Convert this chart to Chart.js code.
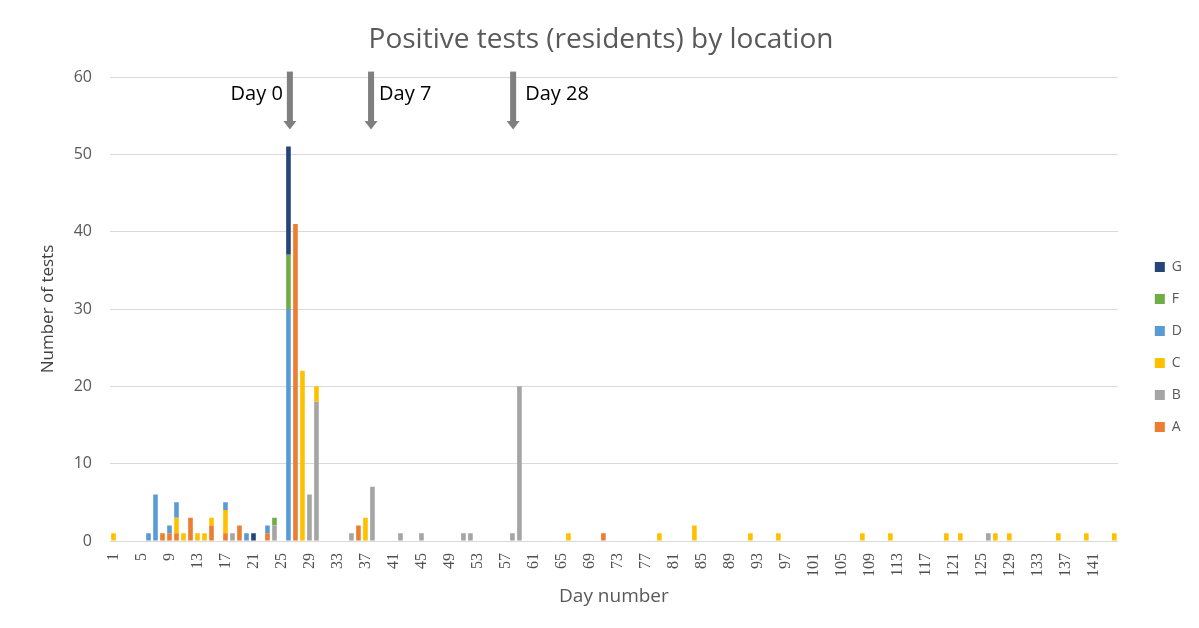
<!DOCTYPE html>
<html>
<head>
<meta charset="utf-8">
<script src="https://cdn.jsdelivr.net/npm/chart.js@4.4.0/dist/chart.umd.min.js"></script>
<style>
  html, body { margin: 0; padding: 0; background: #ffffff; }
  #wrap { width: 1199px; height: 628px; position: relative; }
</style>
</head>
<body>
<div id="wrap"><canvas id="c" width="1199" height="628"></canvas></div>
<script>
// ---------- data ----------
const dayCount = 144;
const dayLabels = Array.from({ length: dayCount }, (_, i) => String(i + 1));
const labelEvery = 4;

const seriesNames = ['A', 'B', 'C', 'D', 'F', 'G'];
const seriesColors = ['#ED7D31', '#A5A5A5', '#FFC000', '#5B9BD5', '#70AD47', '#264478'];

// [day, number of positive tests]
const countsA = [[8,1],[9,1],[10,1],[12,3],[15,2],[17,1],[19,2],[23,1],[27,41],[36,2],[71,1]];
const countsB = [[18,1],[24,2],[29,6],[30,18],[35,1],[38,7],[42,1],[45,1],[51,1],[52,1],[58,1],[59,20],[126,1]];
const countsC = [[1,1],[10,2],[11,1],[13,1],[14,1],[15,1],[17,3],[28,22],[30,2],[37,3],[66,1],[79,1],[84,2],
                 [92,1],[96,1],[108,1],[112,1],[120,1],[122,1],[127,1],[129,1],[136,1],[140,1],[144,1]];
const countsD = [[6,1],[7,6],[9,1],[10,2],[17,1],[20,1],[23,1],[26,30]];
const countsF = [[24,1],[26,7]];
const countsG = [[21,1],[26,14]];
const seriesCounts = [countsA, countsB, countsC, countsD, countsF, countsG];

const yMin = 0, yMax = 60, yStep = 10;

// annotation arrows (day position on the x axis)
const markerDays = [26.2, 37.8, 58.1];
const markerLabels = ['Day 0', 'Day 7', 'Day 28'];
const markerTextSide = ['left', 'right', 'right'];

// ---------- build ----------
function expand(pairs) {
  const arr = new Array(dayCount).fill(0);
  pairs.forEach(([d, v]) => { arr[d - 1] = v; });
  return arr;
}

const datasets = seriesNames.map((name, i) => ({
  label: name,
  data: expand(seriesCounts[i]),
  backgroundColor: seriesColors[i],
  borderWidth: 0,
  categoryPercentage: 1.0,
  barPercentage: 0.66
}));

const markerPlugin = {
  id: 'dayMarkers',
  afterDatasetsDraw(chart) {
    const { ctx, scales: { x, y } } = chart;
    const gaps = [7, 8, 12];
    markerDays.forEach((d, i) => {
      const px = x.getPixelForValue(d - 1);
      const top = y.getPixelForValue(60.7);
      const tip = y.getPixelForValue(53.2);
      ctx.save();
      ctx.fillStyle = '#7F7F7F';
      ctx.fillRect(px - 3, top, 6, tip - top - 8);
      ctx.beginPath();
      ctx.moveTo(px - 6.5, tip - 8.5);
      ctx.lineTo(px + 6.5, tip - 8.5);
      ctx.lineTo(px, tip);
      ctx.closePath();
      ctx.fill();
      ctx.font = '20px "Open Sans"';
      ctx.fillStyle = '#000000';
      ctx.textBaseline = 'middle';
      const ty = y.getPixelForValue(57.8);
      if (markerTextSide[i] === 'left') {
        ctx.textAlign = 'right';
        ctx.fillText(markerLabels[i], px - gaps[i], ty);
      } else {
        ctx.textAlign = 'left';
        ctx.fillText(markerLabels[i], px + gaps[i], ty);
      }
      ctx.restore();
    });
  }
};

const legendPlacer = {
  id: 'legendPlacer',
  beforeLayout(chart) {
    const lg = chart.legend;
    if (lg && !lg._widened) {
      const origFit = lg.fit;
      lg.fit = function () { origFit.call(this); this.width += 19; };
      lg._widened = true;
    }
  },
  afterLayout(chart) {
    const lg = chart.legend;
    if (lg) { lg.left += 19; lg.top += 76; }
  }
};

new Chart(document.getElementById('c'), {
  type: 'bar',
  data: { labels: dayLabels, datasets },
  plugins: [legendPlacer, markerPlugin],
  options: {
    responsive: false,
    animation: false,
    layout: { padding: { left: 10, right: 7, top: 0, bottom: 10 } },
    plugins: {
      title: {
        display: true,
        text: 'Positive tests (residents) by location',
        color: '#595959',
        font: { family: 'Open Sans', size: 28, weight: 'normal' },
        padding: { top: 23, bottom: 20.4 }
      },
      legend: {
        position: 'right',
        reverse: true,
        labels: {
          boxWidth: 10, boxHeight: 10, padding: 18,
          color: '#595959',
          font: { family: 'Open Sans', size: 14 }
        }
      },
      tooltip: { enabled: false }
    },
    scales: {
      x: {
        stacked: true,
        grid: { display: false, drawTicks: false },
        border: { display: true, color: '#d9d9d9' },
        ticks: {
          autoSkip: false, maxRotation: 90, minRotation: 90, padding: 12,
          color: '#505050',
          font: { family: 'Liberation Serif', size: 16 },
          callback: (v, i) => (i % labelEvery === 0 ? dayLabels[i] : '')
        },
        title: {
          display: true, text: 'Day number', color: '#595959',
          font: { family: 'Open Sans', size: 19 },
          padding: { top: 0, bottom: 9.6 }
        },
        afterFit: (s) => { s.height = 77; }
      },
      y: {
        stacked: true,
        min: yMin, max: yMax,
        ticks: {
          stepSize: yStep, padding: 18, color: '#595959',
          font: { family: 'Open Sans', size: 16 }
        },
        grid: { color: '#d9d9d9', drawTicks: false },
        border: { display: false },
        title: {
          display: true, text: 'Number of tests', color: '#404040',
          font: { family: 'Open Sans', size: 17 },
          padding: { top: 27.8, bottom: 0 }
        },
        afterFit: (s) => { s.width = 100; }
      }
    }
  }
});
</script>
</body>
</html>
